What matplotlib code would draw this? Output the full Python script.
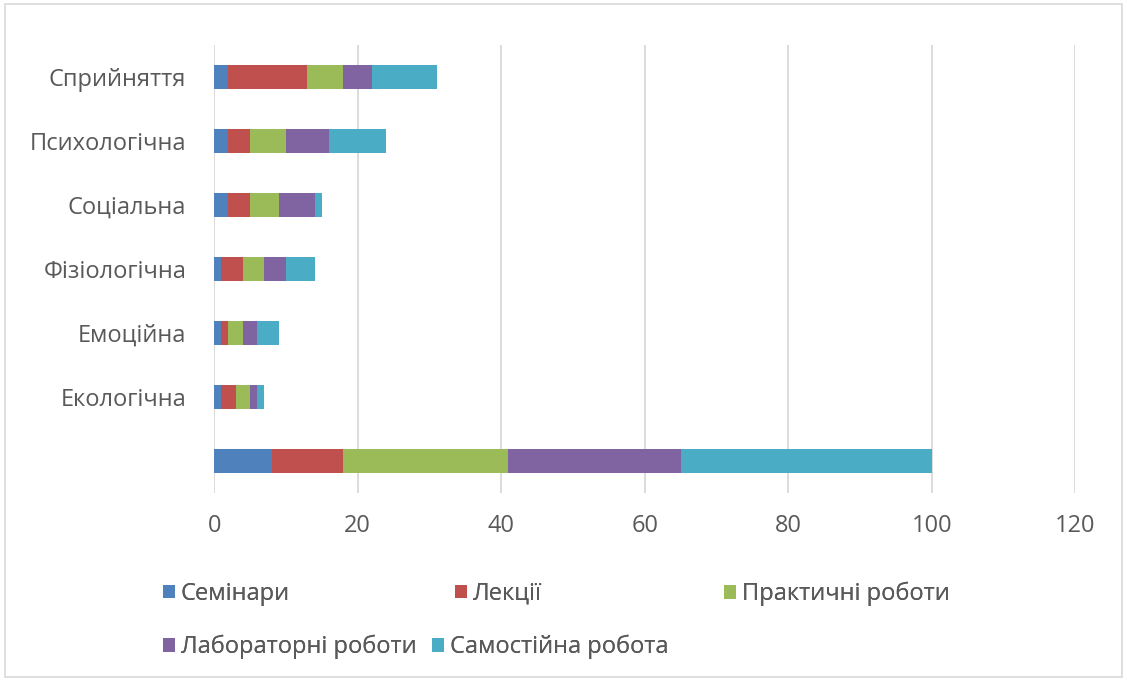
import numpy as np
import matplotlib.pyplot as plt
from matplotlib.patches import Rectangle

# categories from bottom to top
categories = ["", "Екологічна", "Емоційна", "Фізіологічна", "Соціальна", "Психологічна", "Сприйняття"]
series_names = ["Семінари", "Лекції", "Практичні роботи", "Лабораторні роботи", "Самостійна робота"]
seminars = [8, 1, 1, 1, 2, 2, 2]
lectures = [10, 2, 1, 3, 3, 3, 11]
practical = [23, 2, 2, 3, 4, 5, 5]
lab = [24, 1, 2, 3, 5, 6, 4]
selfwork = [35, 1, 3, 4, 1, 8, 9]
colors = ["#4F81BD", "#C0504D", "#9BBB59", "#8064A2", "#4BACC6"]
xticks = [0, 20, 40, 60, 80, 100, 120]

plt.rcParams["font.family"] = ["Open Sans", "DejaVu Sans"]

fig = plt.figure(figsize=(11.27, 6.8), dpi=100)
ax = fig.add_axes([0.19, 0.275, 0.764, 0.659])

y = np.arange(len(categories))
left = np.zeros(len(categories))
handles = []
for vals, name, col in zip([seminars, lectures, practical, lab, selfwork], series_names, colors):
    b = ax.barh(y, vals, left=left, height=0.38, color=col, label=name, zorder=3)
    handles.append(b)
    left += np.array(vals)

ax.set_xlim(0, 120)
ax.set_ylim(-0.5, len(categories) - 0.5)
ax.set_xticks(xticks)
ax.set_yticks(y)
ax.set_yticklabels(categories)
ax.tick_params(axis="both", length=0, labelsize=17, colors="#595959")
ax.tick_params(axis="x", pad=15)
ax.tick_params(axis="y", pad=20)
ax.grid(axis="x", color="#D9D9D9", linewidth=1.3, zorder=0)
for s in ax.spines.values():
    s.set_visible(False)

# legend laid out like Excel: 3 entries in the first row, 2 in the second
leg_pos = [(163, 594), (455, 594), (724, 594), (163, 647), (432, 647)]
for h, name, (px, py) in zip(handles, series_names, leg_pos):
    lg = fig.legend([h], [name], loc="center left", bbox_to_anchor=(px / 1127, 1 - py / 680),
                    frameon=False, fontsize=17, handlelength=0.5, handleheight=0.5,
                    handletextpad=0.25, borderpad=0, borderaxespad=0, labelcolor="#595959")
    fig.add_artist(lg)

fig.patches.append(Rectangle((0.004, 0.004), 0.992, 0.99, transform=fig.transFigure,
                             fill=False, edgecolor="#D9D9D9", linewidth=1.2))

fig.savefig("out.png", dpi=100)
